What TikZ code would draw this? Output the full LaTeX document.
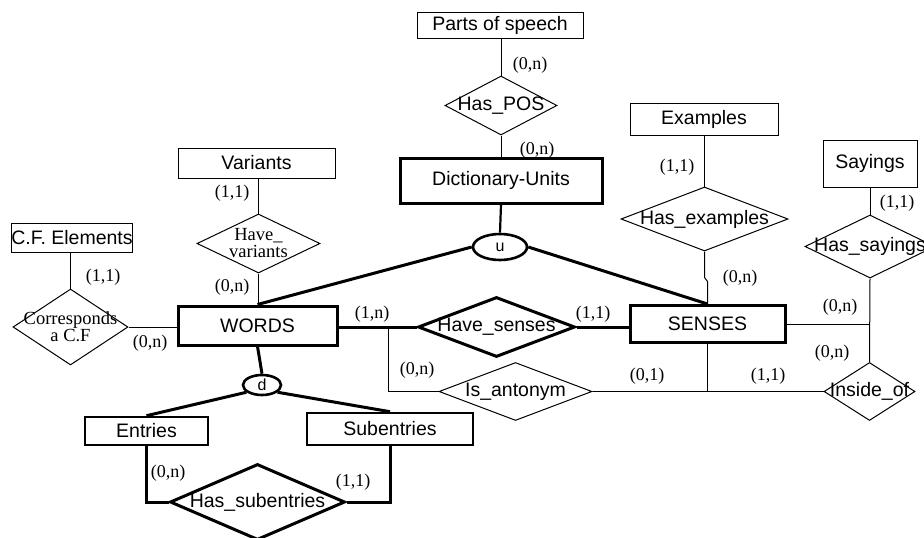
\documentclass[tikz,border=0pt]{standalone}
\usepackage{fontspec}
\setmainfont{Liberation Sans}
\newfontfamily\cardfont{Liberation Serif}
\usetikzlibrary{shapes.geometric,calc}

\begin{document}
\begin{tikzpicture}[x=1pt,y=-1pt,
  every node/.style={font=\fontsize{19.5}{20}\selectfont},
  ent/.style={draw, line width=1pt, rectangle, inner sep=0pt},
  rel/.style={draw, line width=1pt, diamond, inner sep=0pt},
  gen/.style={draw, line width=2.6pt, ellipse, inner sep=0pt,
              font=\fontsize{16}{17}\selectfont},
  heavy/.style={line width=3pt},
  link/.style={line width=1pt},
  blink/.style={line width=3pt},
  card/.style={font=\cardfont\fontsize{18}{19}\selectfont, inner sep=0pt},
  sertext/.style={font=\cardfont\fontsize{18.5}{17}\selectfont, align=center, inner sep=0pt},
  sanstext/.style={inner sep=0pt}
]
\useasboundingbox (0,0) rectangle (924,538);

% ---------- entities ----------
\node[ent, minimum width=166pt, minimum height=26pt] (parts) at (500,25) {Parts of speech};
\node[ent, heavy, minimum width=202pt, minimum height=45pt] (du) at (501,180.5) {Dictionary-Units};
\node[ent, minimum width=157pt, minimum height=30pt] (variants) at (256.5,163) {Variants};
\node[ent, minimum width=118pt, minimum height=29pt] (cfe) at (72,237.5) {C.F. Elements};
\node[ent, heavy, minimum width=159pt, minimum height=39pt] (words) at (257.5,325.5) {WORDS};
\node[ent, heavy, minimum width=155pt, minimum height=37pt] (senses) at (707.5,324) {SENSES};
\node[ent, minimum width=148pt, minimum height=32pt] (examples) at (704,119) {Examples};
\node[ent, minimum width=94pt, minimum height=47pt] (sayings) at (870,163.5) {Sayings};
\node[ent, line width=2.6pt, minimum width=123pt, minimum height=28pt] (entries) at (146.5,431) {Entries};
\node[ent, line width=2.6pt, minimum width=166pt, minimum height=32pt] (subentries) at (390,429) {Subentries};

% ---------- relationships ----------
\node[rel, minimum width=112pt, minimum height=59pt,
      label={[sanstext]center:Has\_POS}] (haspos) at (501,105.5) {};
\node[rel, minimum width=123pt, minimum height=59pt,
      label={[sertext]center:Have\_\\variants}] (havevar) at (258.5,243.5) {};
\node[rel, minimum width=115pt, minimum height=76pt,
      label={[sertext]center:Corresponds\\a C.F}] (corr) at (70.5,327) {};
\node[rel, minimum width=167pt, minimum height=64pt,
      label={[sanstext]center:Has\_examples}] (hasex) at (704.5,219) {};
\node[rel, minimum width=130pt, minimum height=63pt,
      label={[sanstext]center:Has\_sayings}] (hassay) at (870,246.5) {};
\node[rel, minimum width=91pt, minimum height=58pt,
      label={[sanstext]center:Inside\_of}] (insideof) at (869.5,391.5) {};
\node[rel, heavy, minimum width=157pt, minimum height=60pt,
      label={[sanstext]center:Have\_senses}] (havesenses) at (496.5,327) {};
\node[rel, minimum width=153pt, minimum height=58pt,
      label={[sanstext]center:Is\_antonym}] (isant) at (515.5,391.5) {};
\node[rel, heavy, minimum width=175pt, minimum height=76pt,
      label={[sanstext]center:Has\_subentries}] (hassub) at (257.5,502) {};

% ---------- union / disjoint circles ----------
\node[gen, minimum width=54pt, minimum height=26pt] (u) at (500,247) {u};
\node[gen, minimum width=38pt, minimum height=20pt] (d) at (262,385) {d};

% ---------- junction points ----------
\coordinate (antj) at (388,327);
\coordinate (sensj) at (senses.south |- insideof.west);
\coordinate (sayj) at (hassay.south |- senses.east);

% ---------- connectors ----------
\draw[link] (haspos.north) -- (haspos.north |- parts.south);
\draw[link] (haspos.south) -- (du.north);
\draw[line width=2.2pt] (du.south) -- (u.north);
\draw[blink] (u.west) -- (words.north);
\draw[blink] (u.east) -- (senses.north);

\draw[link] (havevar.north) -- (havevar.north |- variants.south);
\draw[link] (havevar.south) -- (havevar.south |- words.north);
\draw[link] (corr.north) -- (corr.north |- cfe.south);
\draw[link] (corr.east) -- (corr.east -| words.west);

\draw[blink] (words.east |- havesenses.west) -- (havesenses.west);
\draw[blink] (havesenses.east) -- (havesenses.east -| senses.west);
\draw[link] (isant.west) -| (antj);
\draw[link] (isant.east) -- (isant.east -| insideof.west);
\draw[link] (senses.south) -- (sensj);

\draw[link] (hasex.north) -- (hasex.north |- examples.south);
\draw[link] (hasex.south) -- ++(0,26) -- ++(3,4) -- (senses.north);
\draw[link] (hassay.north) -- (hassay.north |- sayings.south);
\draw[link] (hassay.south) -- (insideof.north);
\draw[link] (senses.east) -- (sayj);

\draw[blink] (words.south) -- (d.north);
\draw[blink] (d.205) -- (entries.north);
\draw[blink] (d.335) -- (subentries.north);
\draw[blink] (entries.south) |- (hassub.west);
\draw[blink] (subentries.south) |- (hassub.east);

% ---------- cardinalities ----------
\node[card] (c1) at (530,65) {(0,n)};
\node[card] (c2) at (537,150) {(0,n)};
\node[card] (c3) at (232,193) {(1,1)};
\node[card] (c4) at (232,287) {(0,n)};
\node[card] (c5) at (103,277) {(1,1)};
\node[card] (c6) at (150,343) {(0,n)};
\node[card] (c7) at (372,314) {(1,n)};
\node[card] (c8) at (593,314) {(1,1)};
\node[card] (c9) at (417,370) {(0,n)};
\node[card] (c10) at (647,376) {(0,1)};
\node[card] (c11) at (768,376) {(1,1)};
\node[card] (c12) at (677,167) {(1,1)};
\node[card] (c13) at (740,278) {(0,n)};
\node[card] (c14) at (897,203) {(1,1)};
\node[card] (c15) at (840,307) {(0,n)};
\node[card] (c16) at (832,353) {(0,n)};
\node[card] (c17) at (168,473) {(0,n)};
\node[card] (c18) at (353,482) {(1,1)};
\end{tikzpicture}
\end{document}
